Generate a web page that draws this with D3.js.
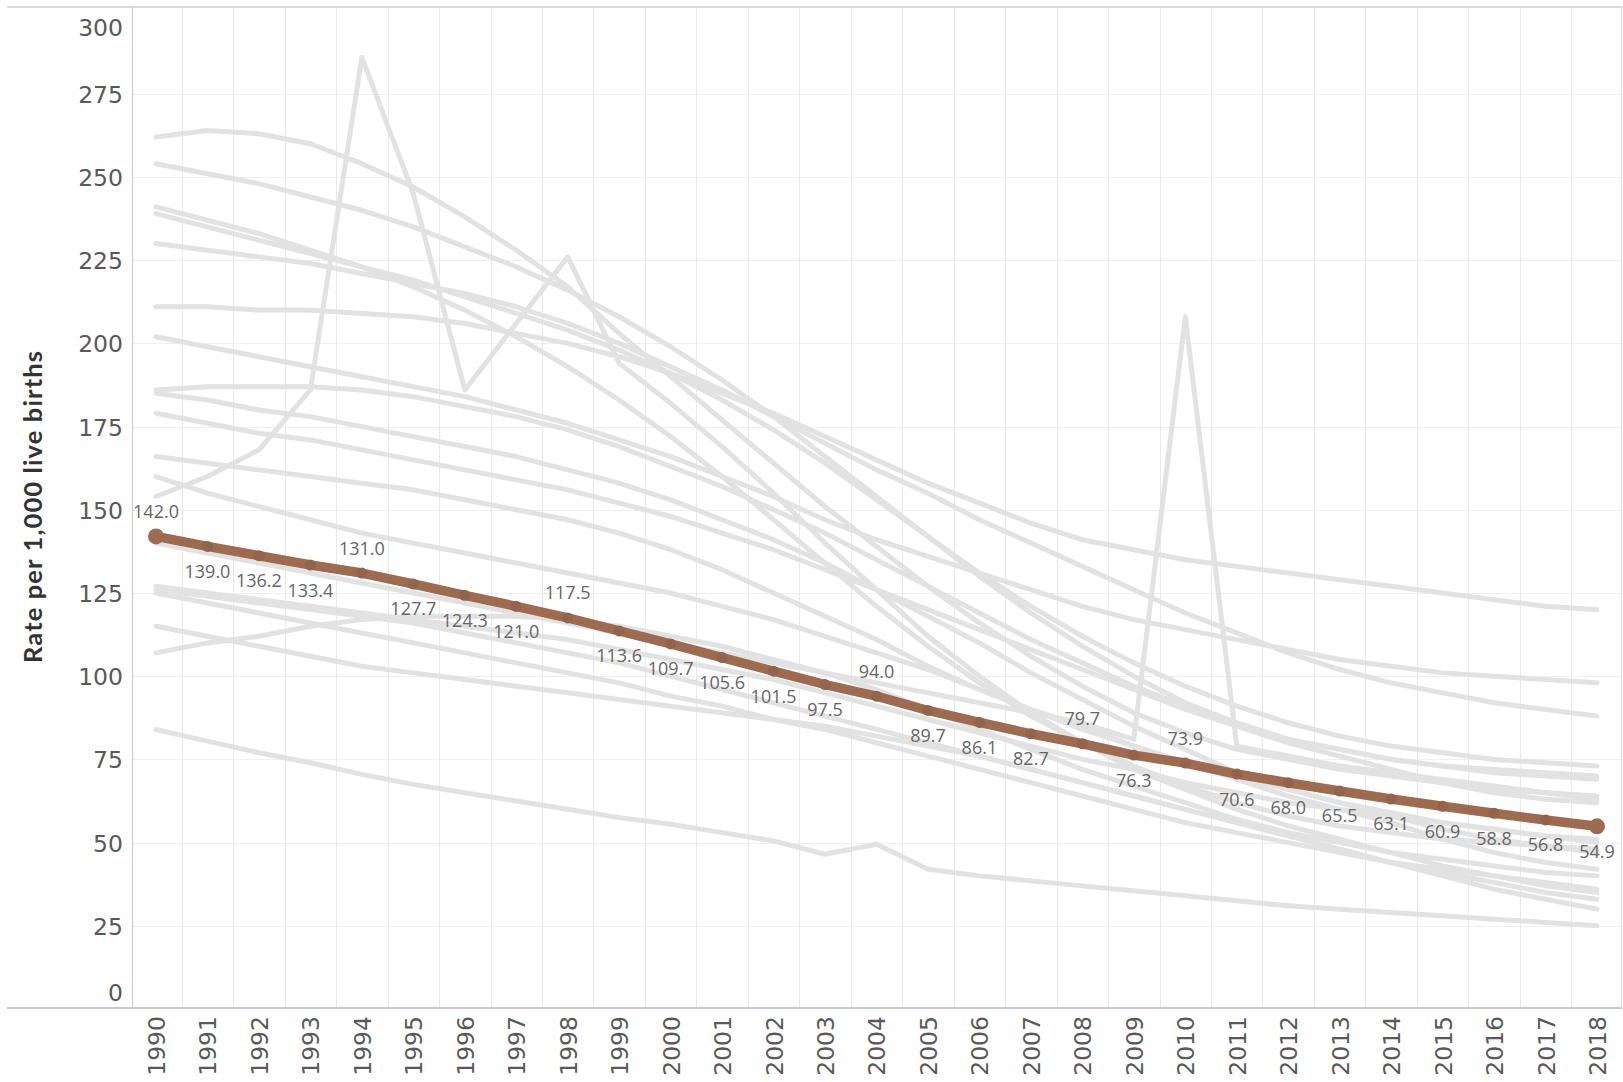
<!DOCTYPE html>
<html>
<head>
<meta charset="utf-8">
<script src="https://cdn.jsdelivr.net/npm/d3@7"></script>
<style>
  body { margin: 0; background: #fff; }
  svg { display: block; }
</style>
</head>
<body>
<div id="chart"></div>
<script>
// Years on the x axis
const years = [1990, 1991, 1992, 1993, 1994, 1995, 1996, 1997, 1998, 1999,
               2000, 2001, 2002, 2003, 2004, 2005, 2006, 2007, 2008, 2009,
               2010, 2011, 2012, 2013, 2014, 2015, 2016, 2017, 2018];

// Highlighted series (brown)
const averageRate = [142.0, 139.0, 136.2, 133.4, 131.0, 127.7, 124.3, 121.0, 117.5, 113.6,
                     109.7, 105.6, 101.5, 97.5, 94.0, 89.7, 86.1, 82.7, 79.7, 76.3,
                     73.9, 70.6, 68.0, 65.5, 63.1, 60.9, 58.8, 56.8, 54.9];

// Years whose value label sits above the point
const labelAbove = [1990, 1994, 1998, 2004, 2008, 2010];

// Background series (grey)
const lineA = [262, 264, 263, 260, 254, 247, 238, 228, 217, 203, 190, 177, 164, 151, 139, 127, 116, 106, 97, 89, 83, 78, 75, 72, 70, 68, 66, 65, 64];
const lineB = [254, 251, 248, 244, 240, 235, 229, 223, 216, 208, 199, 189, 178, 166, 154, 142, 130, 119, 109, 100, 92, 86, 81, 78, 75, 73, 72, 71, 70];
const lineC = [241, 237, 233, 228, 223, 217, 210, 202, 193, 183, 172, 160, 147, 134, 121, 109, 98, 88, 80, 73, 67, 62, 58, 55, 53, 51, 50, 49, 48];
const lineD = [239, 235, 231, 227, 223, 219, 214, 209, 204, 198, 191, 183, 174, 164, 153, 142, 131, 121, 112, 104, 97, 91, 86, 82, 79, 77, 75, 74, 73];
const lineE = [230, 228, 226, 224, 221, 218, 215, 211, 206, 200, 193, 186, 178, 170, 162, 155, 147, 140, 133, 126, 119, 113, 107, 102, 98, 95, 92, 90, 88];
const lineF = [211, 211, 210, 210, 209, 208, 206, 203, 200, 196, 191, 185, 179, 172, 165, 158, 152, 146, 141, 138, 135, 133, 131, 129, 127, 125, 123, 121, 120];
const lineG = [202, 199, 196, 193, 190, 187, 184, 180, 176, 171, 166, 160, 154, 147, 141, 136, 131, 126, 121, 117, 114, 111, 108, 105, 103, 101, 100, 99, 98];
const lineH = [186, 187, 187, 187, 186, 184, 181, 178, 174, 169, 163, 157, 150, 143, 135, 127, 119, 111, 104, 97, 91, 86, 81, 78, 75, 73, 71, 70, 69];
const lineI = [185, 183, 180, 178, 175, 172, 169, 166, 162, 158, 153, 147, 141, 134, 126, 118, 110, 101, 93, 85, 78, 71, 66, 62, 58, 54, 51, 49, 47];
const lineJ = [179, 176, 173, 171, 168, 165, 162, 159, 156, 152, 148, 143, 138, 132, 126, 120, 114, 108, 102, 96, 90, 85, 80, 76, 72, 68, 65, 63, 62];
const lineK = [166, 164, 162, 160, 158, 156, 153, 150, 147, 143, 138, 132, 125, 118, 111, 103, 96, 90, 84, 79, 74, 70, 66, 62, 59, 56, 54, 52, 50];
const lineL = [160, 155, 151, 147, 143, 140, 137, 134, 131, 128, 125, 121, 117, 112, 107, 102, 96, 90, 85, 79, 74, 69, 64, 60, 56, 51, 47, 44, 42];
const lineM = [154, 160, 168, 186, 286, 245, 186, 206, 226, 194, 182, 169, 155, 140, 126, 112, 100, 89, 80, 72, 66, 60, 55, 51, 47, 43, 40, 37, 35];
const lineN = [140, 137, 134, 131, 128, 125, 122, 119, 116, 113, 110, 107, 104, 101, 98, 95, 92, 89, 86, 81, 208, 79, 76, 73, 71, 69, 67, 65, 63];
const lineO = [127, 125, 123, 121, 119, 117, 115, 113, 111, 108, 105, 102, 99, 95, 91, 87, 83, 79, 75, 72, 68, 65, 62, 60, 58, 56, 54, 52, 51];
const lineP = [125, 122, 119, 116, 113, 110, 107, 104, 101, 98, 94, 91, 87, 84, 80, 76, 72, 68, 64, 60, 56, 53, 50, 47, 44, 42, 40, 38, 36];
const lineQ = [115, 112, 109, 106, 103, 101, 99, 97, 95, 93, 91, 89, 87, 85, 82, 79, 76, 72, 68, 64, 60, 56, 52, 48, 44, 41, 38, 35, 33];
const lineR = [107, 110, 112, 115, 117, 118, 118, 118, 117, 115, 112, 109, 105, 101, 96, 90, 84, 78, 72, 67, 62, 57, 53, 50, 47, 45, 43, 41, 40];
const lineS = [84, 80.5, 77, 74, 70.5, 67.5, 65, 62.5, 60, 57.5, 55.5, 53, 50.5, 46.5, 49.5, 42, 40, 38.5, 37, 35.5, 34, 32.5, 31, 30, 29, 28, 27, 26, 25];
const lineT = [126, 124, 122, 120, 118, 116, 113, 110, 107, 104, 100, 96, 92, 88, 84, 80, 76, 72, 68, 64, 60, 56, 52, 48, 44, 40, 36, 33, 30];

const greyLines = [lineA, lineB, lineC, lineD, lineE, lineF, lineG, lineH, lineI, lineJ,
                   lineK, lineL, lineM, lineN, lineO, lineP, lineQ, lineR, lineS, lineT];

// Y axis ticks
const yTicks = [0, 25, 50, 75, 100, 125, 150, 175, 200, 225, 250, 275, 300];

// Frame
let width = 1623,
    height = 1082,
    plot = {left: 132, right: 1622, top: 7, bottom: 1008};

const svg = d3.select('#chart')
    .append('svg')
    .attr('width', width)
    .attr('height', height)
    .style('background', '#fff');

// SCALES
let x = d3.scaleLinear()
    .domain([1990, 2018])
    .range([156, 1597]);

let y = d3.scaleLinear()
    .domain([0, 300])
    .range([1009, 10.6]);

// GRID
svg.append('g')
    .selectAll('line')
    .data(yTicks.filter(d => d > 0 && d < 300))
    .enter().append('line')
    .attr('x1', plot.left).attr('x2', plot.right)
    .attr('y1', d => Math.round(y(d)) + 0.5).attr('y2', d => Math.round(y(d)) + 0.5)
    .attr('stroke', '#f0f0f0');

svg.append('g')
    .selectAll('line')
    .data(years.slice(0, -1).map(d => d + 0.5))
    .enter().append('line')
    .attr('x1', d => Math.round(x(d)) + 0.5).attr('x2', d => Math.round(x(d)) + 0.5)
    .attr('y1', plot.top).attr('y2', plot.bottom)
    .attr('stroke', '#e9e9e9');

// Borders
svg.append('line')
    .attr('x1', 7).attr('x2', plot.right).attr('y1', plot.top).attr('y2', plot.top)
    .attr('stroke', '#d9d9d9').attr('stroke-width', 2);
svg.append('line')
    .attr('x1', 7).attr('x2', plot.right).attr('y1', plot.bottom).attr('y2', plot.bottom)
    .attr('stroke', '#c8c8c8').attr('stroke-width', 2);
svg.append('line')
    .attr('x1', plot.left + 0.5).attr('x2', plot.left + 0.5).attr('y1', plot.top).attr('y2', plot.bottom)
    .attr('stroke', '#c8c8c8');
svg.append('line')
    .attr('x1', plot.right - 0.5).attr('x2', plot.right - 0.5).attr('y1', plot.top).attr('y2', plot.bottom)
    .attr('stroke', '#dddddd');

// AXES
let yAxis = d3.axisLeft(y).tickValues(yTicks).tickSize(0).tickPadding(9);
let gY = svg.append('g')
    .attr('transform', 'translate(' + plot.left + ',0)')
    .call(yAxis);
gY.select('.domain').remove();
gY.selectAll('text')
    .attr('font-family', 'DejaVu Sans')
    .attr('font-size', 23.5)
    .attr('fill', '#595959')
    .attr('dy', '0.36em')
    .attr('y', d => Math.min(Math.max(y(d), 27), 992) - y(d));

let xAxis = d3.axisBottom(x).tickValues(years).tickFormat(d3.format('d')).tickSize(0);
let gX = svg.append('g')
    .attr('transform', 'translate(0,' + plot.bottom + ')')
    .call(xAxis);
gX.select('.domain').remove();
gX.selectAll('text')
    .attr('font-family', 'DejaVu Sans')
    .attr('font-size', 23.5)
    .attr('fill', '#595959')
    .attr('transform', 'rotate(-90)')
    .attr('text-anchor', 'end')
    .attr('x', -8)
    .attr('y', 0)
    .attr('dy', '0.36em');

// Axis title
svg.append('text')
    .attr('transform', 'translate(33,507) rotate(-90)')
    .attr('text-anchor', 'middle')
    .attr('dy', '0.35em')
    .attr('font-family', 'Lato')
    .attr('font-weight', 'bold')
    .attr('font-size', 25.5)
    .attr('textLength', 312)
    .attr('lengthAdjust', 'spacing')
    .attr('fill', '#333')
    .text('Rate per 1,000 live births');

// LINES
let rateLine = d3.line()
    .x((d, i) => x(years[i]))
    .y(d => y(d));

svg.append('g')
    .selectAll('path')
    .data(greyLines)
    .enter().append('path')
    .attr('d', rateLine)
    .attr('fill', 'none')
    .attr('stroke', '#e2e2e2')
    .attr('stroke-width', 5)
    .attr('stroke-linejoin', 'round')
    .attr('stroke-linecap', 'round');

svg.append('path')
    .datum(averageRate)
    .attr('d', rateLine)
    .attr('fill', 'none')
    .attr('stroke', '#9c6b50')
    .attr('stroke-width', 9.5)
    .attr('stroke-linejoin', 'round');

svg.append('g')
    .selectAll('circle')
    .data(averageRate)
    .enter().append('circle')
    .attr('cx', (d, i) => x(years[i]))
    .attr('cy', d => y(d))
    .attr('r', (d, i) => (i === 0 || i === years.length - 1) ? 8 : 5.5)
    .attr('fill', (d, i) => (i === 0 || i === years.length - 1) ? '#9c6b50' : '#93644b');

// Value labels
svg.append('g')
    .selectAll('text')
    .data(averageRate)
    .enter().append('text')
    .attr('x', (d, i) => x(years[i]))
    .attr('y', (d, i) => y(d) + (labelAbove.includes(years[i]) ? -25 : 25))
    .attr('dy', '0.36em')
    .attr('text-anchor', 'middle')
    .attr('font-family', 'Open Sans')
    .attr('font-size', 18)
    .attr('fill', '#666')
    .text(d => d.toFixed(1));
</script>
</body>
</html>
